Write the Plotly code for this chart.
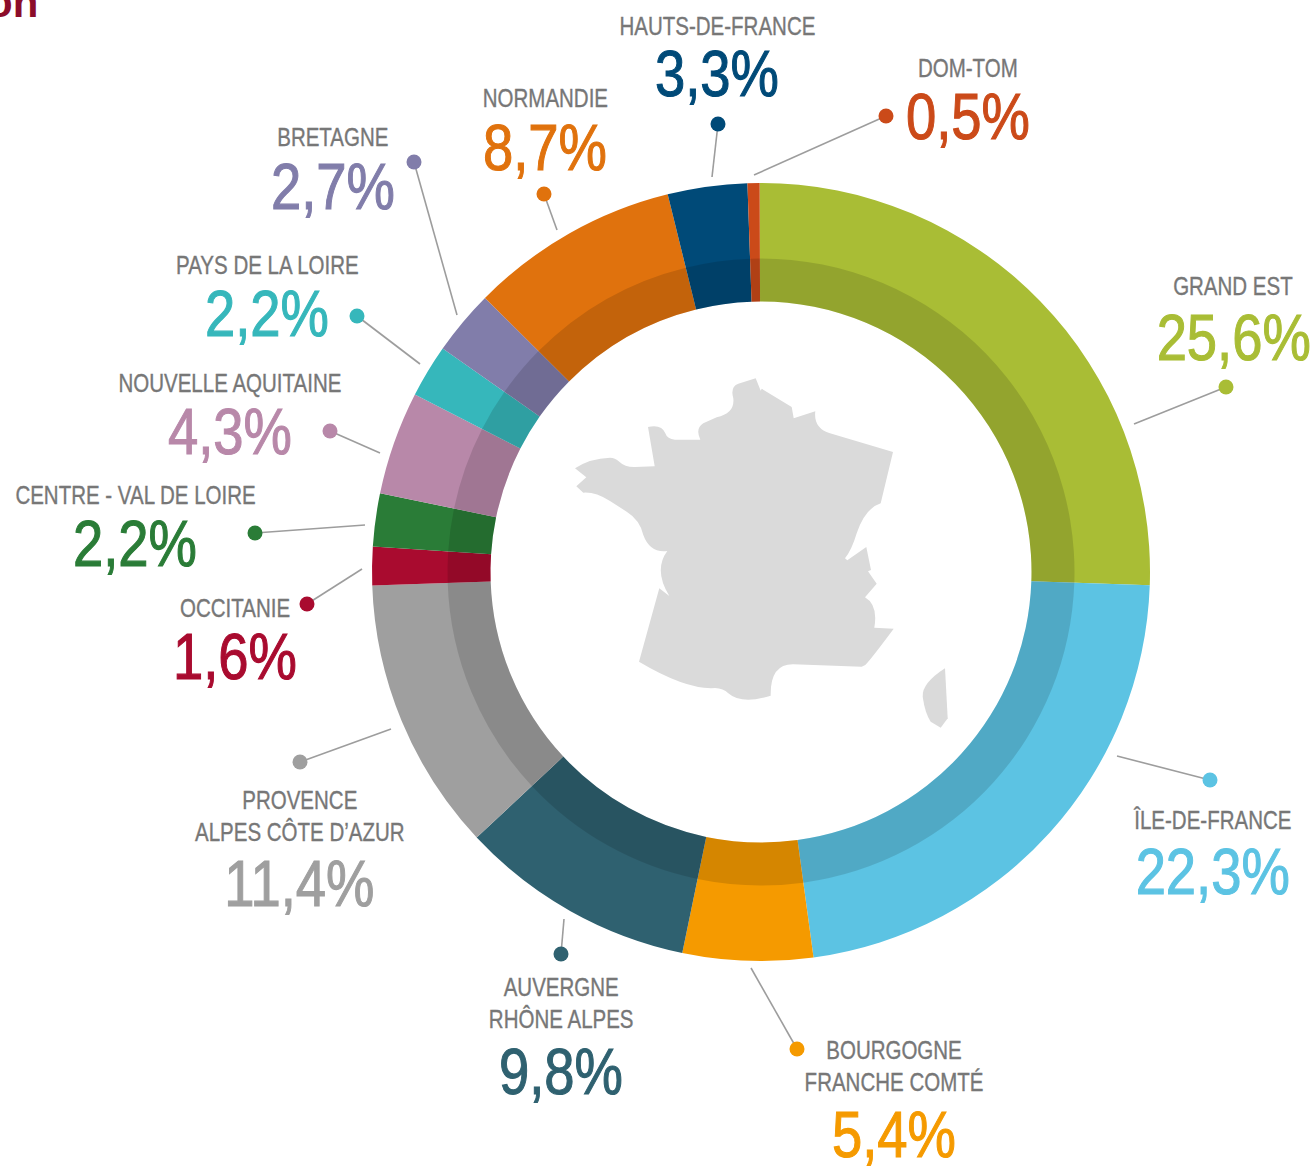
import plotly.graph_objects as go

regions = ["GRAND EST", "ÎLE-DE-FRANCE", "BOURGOGNE<br>FRANCHE COMTÉ", "AUVERGNE<br>RHÔNE ALPES",
           "PROVENCE<br>ALPES CÔTE D’AZUR", "OCCITANIE", "CENTRE - VAL DE LOIRE", "NOUVELLE AQUITAINE",
           "PAYS DE LA LOIRE", "BRETAGNE", "NORMANDIE", "HAUTS-DE-FRANCE", "DOM-TOM"]
shares = [25.6, 22.3, 5.4, 9.8, 11.4, 1.6, 2.2, 4.3, 2.2, 2.7, 8.7, 3.3, 0.5]
share_labels = ["25,6%", "22,3%", "5,4%", "9,8%", "11,4%", "1,6%", "2,2%", "4,3%", "2,2%", "2,7%", "8,7%", "3,3%", "0,5%"]
colors = ["#a9bd35", "#5cc3e3", "#f59a00", "#2f6170", "#9f9f9f", "#a90b2f", "#2a7c37", "#b888a9",
          "#36b7bb", "#817daa", "#e0720d", "#004a78", "#cb4a19"]

W, H = 1316, 1166
CX, CY, R_OUT, R_MID, R_IN = 761, 572, 389, 313.5, 270.5
ROTATION = -0.2

# label layout, in page pixels
name_pos = [(1233, 285.5), (1212, 819.5), (894, 1066.5), (561, 1003.5), (300, 816.5), (235, 607.5), (135, 494.5),
            (230, 382.5), (267, 264.5), (333, 136.5), (545, 97.5), (717, 25.5), (968, 67.5)]
pct_pos = [(1233, 338), (1212, 872), (894, 1135), (561, 1072), (299, 884), (235, 657), (135, 544),
           (230, 432), (267, 314), (333, 187), (545, 148), (717, 74), (968, 117)]
dots = [(1226, 387), (1210, 780), (797, 1049), (561, 954), (300, 762), (307, 604), (255, 533),
        (330, 431), (357, 316), (414, 162), (544, 194), (718, 124), (886, 116)]
ends = [(1134, 424), (1117, 756), (751, 968), (564, 919), (391, 729), (362, 569), (365, 525),
        (380, 453), (420, 364), (457, 315), (557, 230), (712, 177), (754, 175)]

FONT = "Liberation Sans Narrow, Arial Narrow, Liberation Sans, sans-serif"


def dom(r):
    return dict(x=[(CX - r) / W, (CX + r) / W], y=[(H - CY - r) / H, (H - CY + r) / H])


fig = go.Figure()
fig.add_trace(go.Pie(values=shares, sort=False, direction="clockwise", rotation=ROTATION,
                     hole=R_IN / R_OUT, domain=dom(R_OUT), textinfo="none", hoverinfo="skip",
                     marker=dict(colors=colors, line=dict(width=0)), showlegend=False))
fig.add_trace(go.Pie(values=shares, sort=False, direction="clockwise", rotation=ROTATION,
                     hole=R_IN / R_MID, domain=dom(R_MID), textinfo="none", hoverinfo="skip",
                     marker=dict(colors=["rgba(0,0,0,0.13)"] * len(shares), line=dict(width=0)),
                     showlegend=False))
fig.add_trace(go.Scatter(x=[d[0] for d in dots], y=[d[1] for d in dots], mode="markers",
                         marker=dict(size=15, color=colors, line=dict(width=0)),
                         hoverinfo="skip", showlegend=False))

shapes = [dict(type="line", x0=d[0], y0=d[1], x1=e[0], y1=e[1], xref="x", yref="y",
               line=dict(color="#9d9d9d", width=1.6), layer="below") for d, e in zip(dots, ends)]


def zpath(cmds):
    out = []
    for c in cmds:
        pts = " ".join(f"{560 + c[i] / 3:.1f},{360 + c[i + 1] / 3:.1f}" for i in range(1, len(c), 2))
        out.append(f"{c[0]}{pts}")
    return " ".join(out) + " Z"


france = [("M", 45, 325), ("Q", 90, 295, 150, 293), ("Q", 165, 293, 178, 305), ("Q", 195, 322, 225, 321),
          ("L", 284, 319), ("L", 264, 201), ("Q", 305, 192, 316, 220), ("Q", 322, 238, 345, 239),
          ("L", 421, 239), ("Q", 405, 205, 430, 190), ("L", 470, 172), ("Q", 525, 160, 520, 115),
          ("Q", 510, 80, 535, 71), ("L", 587, 55), ("L", 602, 92), ("L", 605, 86), ("L", 695, 141),
          ("L", 701, 175), ("L", 766, 154), ("Q", 760, 205, 810, 220), ("L", 999, 276), ("L", 962, 430),
          ("Q", 915, 445, 890, 520), ("Q", 875, 570, 855, 595), ("L", 862, 601), ("L", 919, 561),
          ("L", 933, 630), ("L", 924, 634), ("L", 950, 671), ("L", 915, 712), ("Q", 955, 735, 943, 803),
          ("L", 1001, 806), ("Q", 935, 895, 916, 915), ("L", 905, 920), ("L", 700, 913),
          ("Q", 630, 912, 632, 1007), ("Q", 545, 1035, 505, 1000), ("Q", 490, 985, 465, 984),
          ("Q", 380, 990, 237, 905), ("L", 298, 685), ("L", 328, 708), ("Q", 280, 630, 322, 573),
          ("Q", 270, 580, 250, 525), ("Q", 240, 480, 200, 455), ("L", 150, 423), ("Q", 105, 395, 70, 398),
          ("L", 49, 379), ("L", 79, 352)]
corsica = [("M", 1155, 925), ("Q", 1085, 970, 1088, 1010), ("Q", 1095, 1060, 1112, 1085),
           ("L", 1142, 1103), ("L", 1163, 1075)]
for p in (france, corsica):
    shapes.append(dict(type="path", path=zpath(p), xref="x", yref="y", fillcolor="#dadada",
                       line=dict(width=0), layer="below"))

annos = []
for name, pct, col, np_, pp in zip(regions, share_labels, colors, name_pos, pct_pos):
    annos.append(dict(x=np_[0], y=np_[1], xref="x", yref="y", text=name, showarrow=False,
                      xanchor="center", yanchor="middle", align="center",
                      font=dict(family=FONT, size=25, color="#777777")))
    annos.append(dict(x=pp[0], y=pp[1], xref="x", yref="y", text=pct, showarrow=False,
                      xanchor="center", yanchor="middle", align="center",
                      font=dict(family=FONT, size=64, color=col)))
annos.append(dict(x=40, y=28, xref="x", yref="y", text="<b>on</b>", showarrow=False, xanchor="right",
                  yanchor="bottom", font=dict(family="Liberation Sans", size=42, color="#8c0d2a")))

# The condensed face of the original is not installed: narrow the real text horizontally around its centre.
CONDENSE = """
document.body.style.margin='0';document.body.style.overflow='hidden';
document.querySelectorAll('text.annotation-text').forEach(function(t){
  var fs=parseFloat(t.style.fontSize), x=parseFloat(t.getAttribute('x'));
  if(t.textContent==='on'){return;}
  var big=fs>40, k=big?0.85:0.82;
  t.setAttribute('transform','translate('+x+',0) scale('+k+',1) translate('+(-x)+',0)');
  t.style.stroke=t.style.fill; t.style.strokeWidth=big?'1.1px':'0.35px';
});
"""

fig.update_layout(width=W, height=H, margin=dict(l=0, r=0, t=0, b=0), paper_bgcolor="white",
                  plot_bgcolor="rgba(0,0,0,0)", showlegend=False, shapes=shapes, annotations=annos,
                  xaxis=dict(range=[0, W], visible=False, fixedrange=True, domain=[0, 1]),
                  yaxis=dict(range=[H, 0], visible=False, fixedrange=True, domain=[0, 1]))
fig.write_html("out.html", config=dict(displayModeBar=False), post_script=CONDENSE)
